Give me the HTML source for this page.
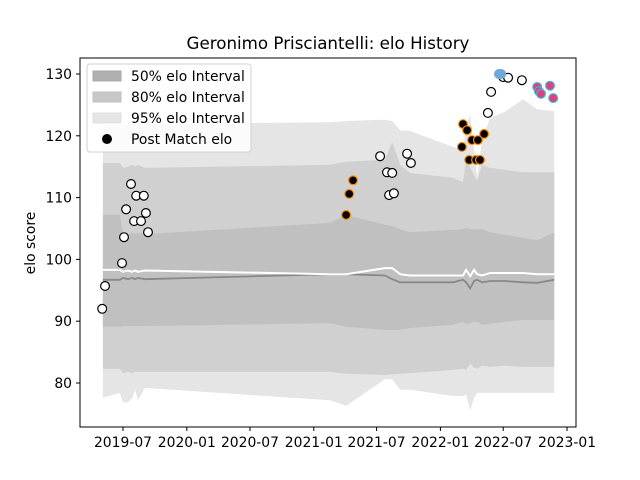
<!DOCTYPE html>
<html><head><meta charset="utf-8"><style>
html,body{margin:0;padding:0;background:#fff}
svg{display:block;font-family:"DejaVu Sans","Liberation Sans",sans-serif}
</style></head><body>
<svg id="chart" width="640" height="480" viewBox="0 0 640 480">
<rect width="640" height="480" fill="#fff"/>
<text x="328" y="49" font-size="16.7" text-anchor="middle">Geronimo Prisciantelli: elo History</text>
<text transform="translate(35,243) rotate(-90)" font-size="13.9" text-anchor="middle">elo score</text>
<g id="bands"></g>
<g id="lines"></g>
<g id="points"></g>
<g id="axes"></g>
<g>
<rect x="87" y="64" width="164" height="88" rx="3" fill="#fff" fill-opacity="0.85" stroke="#d0d0d0"/>
<rect x="93" y="71" width="28" height="10" fill="#b0b0b0" stroke="#a8a8a8"/>
<text x="131" y="81" font-size="13.9">50% elo Interval</text>
<rect x="93" y="92" width="28" height="10" fill="#c8c8c8" stroke="#c0c0c0"/>
<text x="131" y="102" font-size="13.9">80% elo Interval</text>
<rect x="93" y="113" width="28" height="10" fill="#e5e5e5" stroke="#e0e0e0"/>
<text x="131" y="123" font-size="13.9">95% elo Interval</text>
<circle cx="107" cy="139" r="5" fill="#000"/>
<text x="131" y="144" font-size="13.9">Post Match elo</text>
</g>
</svg>
<script>
// days since 2019-07-01
const bandDays=[-58,-9,0,14,26,35,43,63,597,643,755,776,799,827,951,980,989,1001,1012,1021,1035,1058,1101,1153,1194,1243];
const upper95=[121.7,121.7,121.7,121.7,121.7,121.7,121.7,121.9,122.2,122.4,122.6,122.4,120.9,120.8,118.2,117.7,121.7,123.4,117.7,113.2,119.3,122.9,123.9,125.9,124.3,124.0];
const upper80=[115.6,115.6,114.8,115.0,115.3,115.0,115.3,114.8,115.3,115.8,116.1,119.0,115.3,114.0,113.2,112.5,116.1,114.8,113.6,112.8,115.3,114.8,114.5,114.1,114.1,114.1];
const upper50=[107.2,107.2,104.0,104.1,104.3,104.1,104.3,104.1,105.9,107.2,105.6,105.4,104.9,104.4,104.8,104.9,105.1,104.9,104.9,104.9,104.9,104.4,104.0,103.5,103.1,104.3];
const lower50=[89.1,89.1,89.2,89.2,89.2,89.2,89.2,89.2,89.7,89.1,88.6,88.6,88.6,88.9,89.4,89.9,89.5,89.7,89.9,89.9,89.4,89.6,89.9,90.2,90.2,90.2];
const lower80=[82.3,82.3,81.6,81.8,81.6,81.8,81.8,81.8,81.8,81.5,81.3,81.4,81.5,81.6,82.1,82.3,82.1,83.1,82.5,82.3,82.8,82.6,82.8,82.6,82.6,82.6];
const lower95=[77.6,78.4,76.9,76.9,77.5,78.9,77.2,79.2,77.2,76.3,80.6,80.6,78.9,78.9,77.9,77.9,78.1,75.6,77.6,78.4,78.4,78.4,78.4,78.4,78.4,78.4];
const medianLine=[96.7,96.7,97.0,96.8,97.0,96.8,97.0,96.8,97.6,97.6,97.4,96.8,96.3,96.3,96.3,96.7,96.3,95.3,96.5,96.7,96.3,96.5,96.5,96.3,96.2,96.7];
const meanLine=[98.3,98.3,98.0,98.2,98.0,98.2,98.0,98.2,97.6,97.6,98.6,98.6,97.6,97.4,97.4,97.4,98.3,97.3,98.3,97.6,97.4,97.8,97.8,97.8,97.6,97.6];
const whiteDays=[-60,-52,-3,3,9,23,38,60,32,52,66,72,741,819,830,761,776,767,781,1052,1061,1096,1110,1150];
const whiteElo=[92.0,95.7,99.4,103.6,108.1,112.2,110.3,110.3,106.2,106.2,107.5,104.4,116.7,117.1,115.6,114.1,114.0,110.4,110.7,123.7,127.1,129.5,129.4,129.0];
const orangeDays=[643,652,663,980,992,1006,1023,1041,977,998,1018,1029];
const orangeElo=[107.2,110.6,112.8,121.9,120.9,119.3,119.3,120.3,118.2,116.1,116.1,116.1];
const blueDays=[1084,1090];
const blueElo=[130.0,130.0];
const pinkDays=[1194,1199,1205,1231,1240];
const pinkElo=[127.9,127.2,126.8,128.1,126.1];
const yTicks=[80,90,100,110,120,130];
const xTickDays=[0,184,366,550,731,915,1096,1280];
const xTickLabels=["2019-07","2020-01","2020-07","2021-01","2021-07","2022-01","2022-07","2023-01"];

const NS="http://www.w3.org/2000/svg";
const X=d=>123+d*0.3469;
const Y=v=>74+(130-v)*6.18;
function mk(tag,attrs,parent){const e=document.createElementNS(NS,tag);for(const k in attrs)e.setAttribute(k,attrs[k]);parent.appendChild(e);return e;}
function area(up,lo){let s="";bandDays.forEach((d,i)=>{s+=(i?"L":"M")+X(d).toFixed(1)+","+Y(up[i]).toFixed(1);});for(let i=bandDays.length-1;i>=0;i--)s+="L"+X(bandDays[i]).toFixed(1)+","+Y(lo[i]).toFixed(1);return s+"Z";}
function line(a){return bandDays.map((d,i)=>(i?"L":"M")+X(d).toFixed(1)+","+Y(a[i]).toFixed(1)).join("");}
const bands=document.getElementById("bands");
let p=mk("path",{d:area(upper95,lower95),fill:"#e5e5e5"},bands);


p=mk("path",{d:area(upper80,lower80),fill:"#d0d0d0"},bands);


p=mk("path",{d:area(upper50,lower50),fill:"#c0c0c0"},bands);


const lines=document.getElementById("lines");
p=mk("path",{d:line(medianLine),fill:"none",stroke:"#888",'stroke-width':1.8},lines);


p=mk("path",{d:line(meanLine),fill:"none",stroke:"#fff",'stroke-width':2},lines);


const pts=document.getElementById("points");
function dots(days,vals,fill,stroke,name){days.forEach((d,i)=>{const c=mk("circle",{cx:X(d).toFixed(1),cy:Y(vals[i]).toFixed(1),r:4.4,fill:fill,stroke:stroke,'stroke-width':1.2},pts);

});}
dots(whiteDays,whiteElo,"#fff","#000","match-point");
dots(orangeDays,orangeElo,"#000","#ff8c00","match-point-orange");
dots(blueDays,blueElo,"#6fa8dc","#6fa8dc","match-point-blue");
dots(pinkDays,pinkElo,"#e0407f","#3bb9d8","match-point-pink");
const ax=document.getElementById("axes");
let fr=mk("rect",{x:80,y:58,width:496,height:369,fill:"none",stroke:"#000",'stroke-width':1},ax);


yTicks.forEach(v=>{const y=Y(v);mk("line",{x1:76,x2:80,y1:y,y2:y,stroke:"#000"},ax);
const t=mk("text",{x:72,y:y+5,'font-size':13.9,'text-anchor':'end'},ax);t.textContent=v;

});
xTickDays.forEach((d,i)=>{const x=X(d);mk("line",{x1:x,x2:x,y1:427,y2:431,stroke:"#000"},ax);
const t=mk("text",{x:x,y:447,'font-size':13.9,'text-anchor':'middle'},ax);t.textContent=xTickLabels[i];

});
</script>
</body></html>
